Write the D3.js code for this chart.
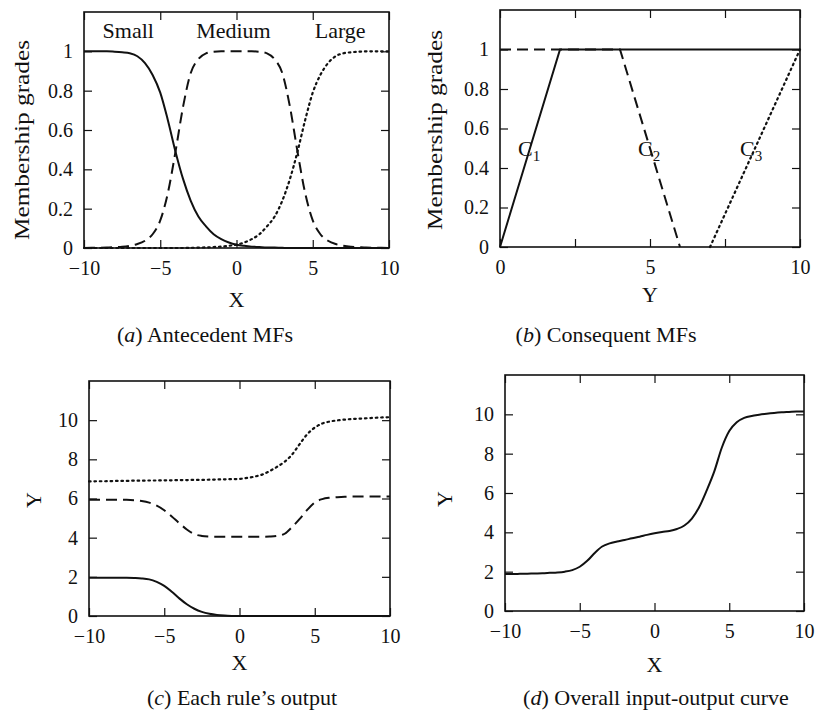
<!DOCTYPE html>
<html>
<head>
<meta charset="utf-8">
<script src="https://cdn.jsdelivr.net/npm/d3@7/dist/d3.min.js"></script>
<style>
  body { margin: 0; background: #fff; }
  text { font-family: "Liberation Serif", "Times New Roman", serif; fill: #111; }
</style>
</head>
<body>
<svg id="chart" width="816" height="716"></svg>
<script>
// input grid shared by the smooth curves
var xGrid = [-10, -9.5, -9, -8.5, -8, -7.5, -7, -6.5, -6, -5.5, -5, -4.5, -4, -3.5, -3, -2.5, -2, -1.5, -1, -0.5,
  0, 0.5, 1, 1.5, 2, 2.5, 3, 3.5, 4, 4.5, 5, 5.5, 6, 6.5, 7, 7.5, 8, 8.5, 9, 9.5, 10];

// (a) antecedent MFs
var smallMF = [1, 1, 1, 1, 0.998, 0.995, 0.99, 0.975, 0.94, 0.88, 0.79, 0.65, 0.49, 0.35, 0.24, 0.16, 0.11, 0.07, 0.045, 0.028,
  0.017, 0.011, 0.007, 0.005, 0.003, 0.002, 0.001, 0, 0, 0, 0, 0, 0, 0, 0, 0, 0, 0, 0, 0, 0];
var mediumMF = [0, 0.001, 0.001, 0.002, 0.004, 0.006, 0.011, 0.02, 0.037, 0.07, 0.14, 0.28, 0.49, 0.72, 0.89, 0.96, 0.99, 0.998, 1, 1,
  1, 1, 1, 0.998, 0.99, 0.96, 0.89, 0.72, 0.49, 0.28, 0.14, 0.07, 0.037, 0.02, 0.011, 0.006, 0.004, 0.002, 0.001, 0.001, 0];
var largeMF = [0, 0, 0, 0, 0, 0, 0, 0, 0, 0, 0, 0, 0, 0, 0.001, 0.002, 0.003, 0.005, 0.007, 0.011,
  0.017, 0.028, 0.045, 0.07, 0.11, 0.16, 0.24, 0.35, 0.49, 0.65, 0.79, 0.88, 0.94, 0.975, 0.99, 0.995, 0.998, 1, 1, 1, 1];
var mfLabels = ['Small', 'Medium', 'Large'];
var mfLabelX = [-7.1, -0.2, 6.8];

// (b) consequent MFs
var c1X = [0, 2, 10], c1Y = [0, 1, 1];
var c2X = [0, 4, 6], c2Y = [1, 1, 0];
var c3X = [7, 10], c3Y = [0, 1];
var cLabelX = [0.6, 4.6, 8.0];

// (c) each rule's output
var rule1 = [1.95, 1.95, 1.95, 1.95, 1.95, 1.95, 1.94, 1.92, 1.87, 1.74, 1.54, 1.24, 0.9, 0.6, 0.37, 0.21, 0.11, 0.05, 0.02, 0.006,
  0, 0, 0, 0, 0, 0, 0, 0, 0, 0, 0, 0, 0, 0, 0, 0, 0, 0, 0, 0, 0];
var rule2 = [5.93, 5.93, 5.93, 5.93, 5.93, 5.93, 5.91, 5.87, 5.79, 5.64, 5.4, 5.08, 4.74, 4.42, 4.18, 4.09, 4.06, 4.05, 4.05, 4.05,
  4.05, 4.05, 4.05, 4.05, 4.06, 4.09, 4.2, 4.55, 4.96, 5.42, 5.8, 5.97, 6.04, 6.07, 6.09, 6.1, 6.1, 6.1, 6.1, 6.1, 6.1];
var rule3 = [6.87, 6.88, 6.88, 6.89, 6.9, 6.9, 6.91, 6.91, 6.92, 6.92, 6.93, 6.93, 6.94, 6.94, 6.95, 6.95, 6.96, 6.97, 6.98, 6.99,
  7.0, 7.05, 7.12, 7.22, 7.4, 7.62, 7.88, 8.25, 8.78, 9.28, 9.62, 9.83, 9.93, 9.99, 10.03, 10.06, 10.08, 10.1, 10.12, 10.14, 10.15];

// (d) overall input-output curve
var overall = [1.88, 1.88, 1.89, 1.9, 1.91, 1.92, 1.94, 1.96, 2.0, 2.08, 2.25, 2.55, 2.95, 3.28, 3.44, 3.53, 3.61, 3.7, 3.78, 3.87,
  3.95, 4.02, 4.07, 4.17, 4.35, 4.7, 5.3, 6.15, 7.1, 8.3, 9.15, 9.6, 9.82, 9.92, 9.98, 10.03, 10.07, 10.1, 10.12, 10.14, 10.15];

var svg = d3.select('#chart');
var styles = {
  solid: { dash: null, width: 2 },
  dashed: { dash: '11,6', width: 2 },
  dotted: { dash: '1.6,3.8', width: 2.2 }
};

function panel(o) {
  var x = d3.scaleLinear().domain(o.xDomain).range(o.xRange);
  var y = d3.scaleLinear().domain(o.yDomain).range(o.yRange);
  var g = svg.append('g');
  var fmtX = function (d) { return o.xLabels.indexOf(d) >= 0 ? d3.format('')(d) : ''; };
  var fmtY = function (d) { return o.yLabels.indexOf(d) >= 0 ? o.yFormat(d) : ''; };

  var ax = [
    g.append('g').attr('transform', 'translate(0,' + o.yRange[0] + ')')
      .call(d3.axisBottom(x).tickValues(o.xTicks).tickSize(-8).tickPadding(13).tickFormat(fmtX)),
    g.append('g').attr('transform', 'translate(0,' + o.yRange[1] + ')')
      .call(d3.axisTop(x).tickValues(o.xTicks).tickSize(-8).tickFormat('')),
    g.append('g').attr('transform', 'translate(' + o.xRange[0] + ',0)')
      .call(d3.axisLeft(y).tickValues(o.yTicks).tickSize(-8).tickPadding(11).tickFormat(fmtY)),
    g.append('g').attr('transform', 'translate(' + o.xRange[1] + ',0)')
      .call(d3.axisRight(y).tickValues(o.yTicks).tickSize(-8).tickFormat(''))
  ];
  ax.forEach(function (a) {
    a.select('.domain').remove();
    a.selectAll('line').attr('stroke', '#111').attr('stroke-width', 1.2);
    a.selectAll('text').attr('font-size', 20).style('font-family', '"Liberation Serif", serif').attr('fill', '#111');
  });

  g.append('rect')
    .attr('x', o.xRange[0]).attr('y', o.yRange[1])
    .attr('width', o.xRange[1] - o.xRange[0]).attr('height', o.yRange[0] - o.yRange[1])
    .attr('fill', 'none').attr('stroke', '#111').attr('stroke-width', 1.6);

  var line = d3.line().x(function (d) { return x(d[0]); }).y(function (d) { return y(d[1]); })
    .curve(o.curve || d3.curveMonotoneX);

  o.series.forEach(function (s) {
    var pts = s.xs.map(function (v, i) { return [v, s.ys[i]]; });
    var st = styles[s.style];
    g.append('path').datum(pts).attr('d', line)
      .attr('fill', 'none').attr('stroke', '#111')
      .attr('stroke-width', st.width).attr('stroke-dasharray', st.dash)
      .attr('stroke-linecap', s.style === 'dotted' ? 'round' : 'butt');
  });

  g.append('text').attr('x', (o.xRange[0] + o.xRange[1]) / 2).attr('y', o.xTitleY)
    .attr('text-anchor', 'middle').attr('font-size', 22).text(o.xTitle);

  var yt = g.append('text').attr('transform', 'translate(' + o.yTitlePos[0] + ',' + o.yTitlePos[1] + ') rotate(-90)')
    .attr('text-anchor', 'middle').attr('dy', '0.35em').attr('font-size', 22).text(o.yTitle);
  if (o.yTitleLen) yt.attr('textLength', o.yTitleLen).attr('lengthAdjust', 'spacingAndGlyphs');

  var cap = g.append('text').attr('x', o.capX).attr('y', o.capY)
    .attr('text-anchor', 'middle').attr('font-size', 22);
  cap.append('tspan').text('(');
  cap.append('tspan').attr('font-style', 'italic').text(o.capLetter);
  cap.append('tspan').text(') ' + o.caption);

  return { g: g, x: x, y: y };
}

var fmt1 = function (d) { return d === 0 || d === 1 ? String(d) : d3.format('.1f')(d); };

var pa = panel({
  xDomain: [-10, 10], xRange: [84, 389], yDomain: [0, 1.2], yRange: [248, 12],
  xTicks: [-10, -5, 0, 5, 10], xLabels: [-10, -5, 0, 5, 10],
  yTicks: [0, 0.2, 0.4, 0.6, 0.8, 1], yLabels: [0, 0.2, 0.4, 0.6, 0.8, 1], yFormat: fmt1,
  series: [
    { xs: xGrid, ys: smallMF, style: 'solid' },
    { xs: xGrid, ys: mediumMF, style: 'dashed' },
    { xs: xGrid, ys: largeMF, style: 'dotted' }
  ],
  xTitle: 'X', xTitleY: 307, yTitle: 'Membership grades', yTitlePos: [21, 140], yTitleLen: 200,
  capX: 205, capY: 342, capLetter: 'a', caption: 'Antecedent MFs'
});
pa.g.selectAll('.mf-label').data(mfLabels).enter().append('text')
  .attr('class', 'mf-label')
  .attr('x', function (d, i) { return pa.x(mfLabelX[i]); })
  .attr('y', pa.y(1.07))
  .attr('text-anchor', 'middle').attr('font-size', 22)
  .text(function (d) { return d; });

var pb = panel({
  xDomain: [0, 10], xRange: [500, 800], yDomain: [0, 1.2], yRange: [247, 10],
  xTicks: [0, 2.5, 5, 7.5, 10], xLabels: [0, 5, 10],
  yTicks: [0, 0.2, 0.4, 0.6, 0.8, 1], yLabels: [0, 0.2, 0.4, 0.6, 0.8, 1], yFormat: fmt1,
  curve: d3.curveLinear,
  series: [
    { xs: c1X, ys: c1Y, style: 'solid' },
    { xs: c2X, ys: c2Y, style: 'dashed' },
    { xs: c3X, ys: c3Y, style: 'dotted' }
  ],
  xTitle: 'Y', xTitleY: 302, yTitle: 'Membership grades', yTitlePos: [434, 130], yTitleLen: 200,
  capX: 606, capY: 342, capLetter: 'b', caption: 'Consequent MFs'
});
cLabelX.forEach(function (v, i) {
  var t = pb.g.append('text').attr('x', pb.x(v)).attr('y', pb.y(0.46)).attr('font-size', 22);
  t.append('tspan').text('C');
  t.append('tspan').attr('dy', 5).attr('font-size', 15).text(String(i + 1));
});

panel({
  xDomain: [-10, 10], xRange: [89, 390], yDomain: [0, 12], yRange: [616, 381],
  xTicks: [-10, -5, 0, 5, 10], xLabels: [-10, -5, 0, 5, 10],
  yTicks: [0, 2, 4, 6, 8, 10], yLabels: [0, 2, 4, 6, 8, 10], yFormat: d3.format(''),
  series: [
    { xs: xGrid, ys: rule1, style: 'solid' },
    { xs: xGrid, ys: rule2, style: 'dashed' },
    { xs: xGrid, ys: rule3, style: 'dotted' }
  ],
  xTitle: 'X', xTitleY: 670, yTitle: 'Y', yTitlePos: [33, 500],
  capX: 242, capY: 705, capLetter: 'c', caption: 'Each rule\u2019s output'
});

panel({
  xDomain: [-10, 10], xRange: [505, 804], yDomain: [0, 12], yRange: [611, 375],
  xTicks: [-10, -5, 0, 5, 10], xLabels: [-10, -5, 0, 5, 10],
  yTicks: [0, 2, 4, 6, 8, 10], yLabels: [0, 2, 4, 6, 8, 10], yFormat: d3.format(''),
  series: [
    { xs: xGrid, ys: overall, style: 'solid' }
  ],
  xTitle: 'X', xTitleY: 672, yTitle: 'Y', yTitlePos: [444, 499],
  capX: 656, capY: 705, capLetter: 'd', caption: 'Overall input-output curve'
});
</script>
</body>
</html>
